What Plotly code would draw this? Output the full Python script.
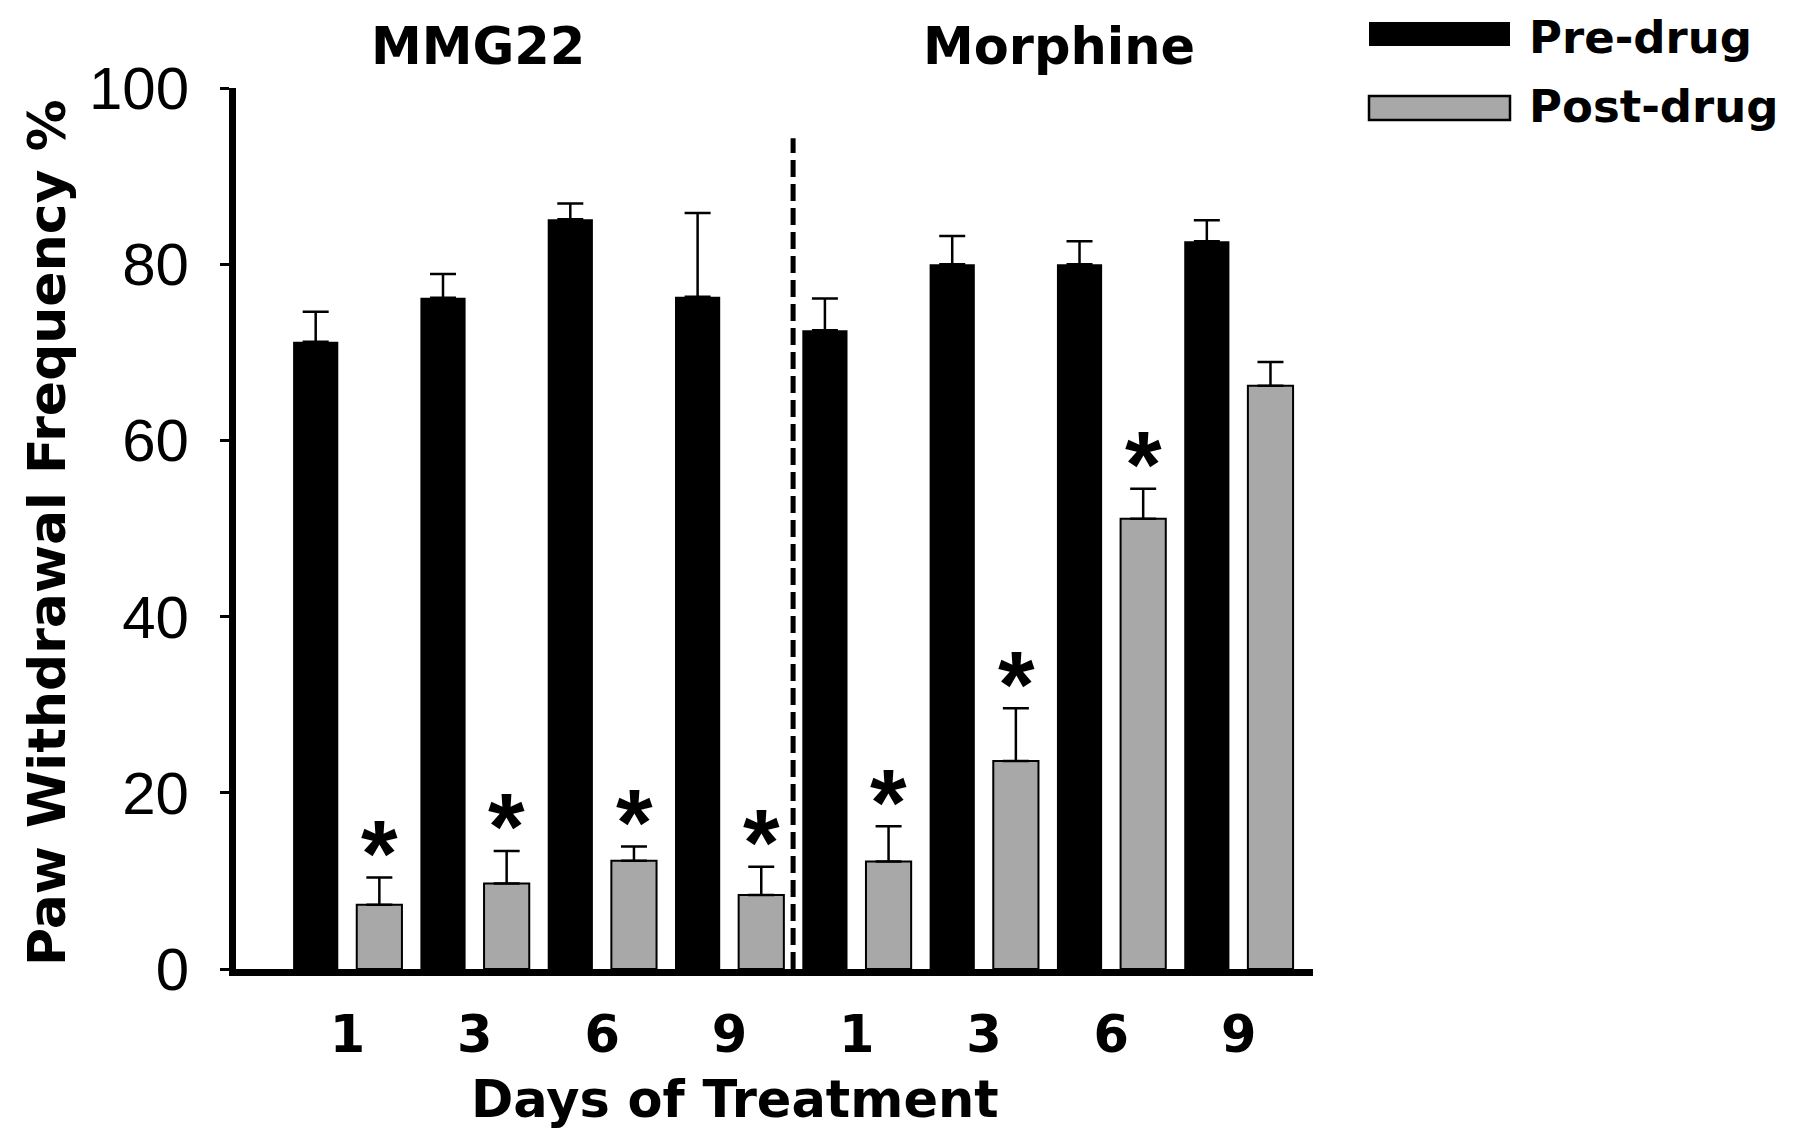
import plotly.graph_objects as go

# ---------------- data ----------------
groups = ["MMG22", "Morphine"]
day_labels = ["1", "3", "6", "9", "1", "3", "6", "9"]
series_names = ["Pre-drug", "Post-drug"]
pre_drug = [71.2, 76.2, 85.1, 76.3, 72.5, 80.0, 80.0, 82.6]
pre_drug_err = [3.4, 2.7, 1.8, 9.5, 3.6, 3.2, 2.6, 2.4]
post_drug = [7.3, 9.7, 12.3, 8.4, 12.2, 23.6, 51.1, 66.2]
post_drug_err = [3.1, 3.7, 1.6, 3.2, 4.0, 6.0, 3.4, 2.7]
significant = [True, True, True, True, True, True, True, False]
y_ticks = [0, 20, 40, 60, 80, 100]

# ---------------- layout geometry (pixels, reference frame) ----------------
PAGE = 8  # default page margin of the html body
W, H = 1800 - PAGE, 1147 - PAGE
L, R, T, B = 236, 1313, 88, 969


def px_x(px):
    return (px - L) / (R - L)


def px_y(py):
    return (B - py) / (B - T)


BOLD = "DejaVu Sans"
REG = "Liberation Sans, Arial, sans-serif"
STAR = "Liberation Sans, Arial, sans-serif"

xpos = list(range(len(day_labels)))

fig = go.Figure()
fig.add_trace(go.Bar(
    x=xpos, y=pre_drug, name=series_names[0],
    marker=dict(color="#000000", line=dict(color="#000000", width=0)),
    error_y=dict(type="data", symmetric=False, array=pre_drug_err,
                 arrayminus=[0] * len(pre_drug), color="#000000",
                 thickness=2.5, width=13),
    showlegend=False,
))
fig.add_trace(go.Bar(
    x=xpos, y=post_drug, name=series_names[1],
    marker=dict(color="#a8a8a8", line=dict(color="#000000", width=2)),
    error_y=dict(type="data", symmetric=False, array=post_drug_err,
                 arrayminus=[0] * len(post_drug), color="#000000",
                 thickness=2.5, width=13),
    showlegend=False,
))

annotations = []
# significance asterisks
for i, sig in enumerate(significant):
    if sig:
        annotations.append(dict(
            x=i, y=post_drug[i] + post_drug_err[i], xref="x", yref="y",
            text="*", showarrow=False, xshift=32, yshift=24,
            xanchor="center", yanchor="middle",
            font=dict(family=STAR, size=94, weight="bold", color="#000000"),
        ))

# group titles
for name, cx in zip(groups, [477.6, 1059]):
    annotations.append(dict(
        x=px_x(cx), y=px_y(47), xref="paper", yref="paper", text=name,
        showarrow=False, xanchor="center", yanchor="middle",
        font=dict(family=BOLD, size=51, weight="bold", color="#000000"),
    ))

# axis titles
annotations.append(dict(
    x=px_x(735), y=px_y(1099), xref="paper", yref="paper",
    text="Days of Treatment", showarrow=False, xanchor="center", yanchor="middle",
    font=dict(family=BOLD, size=51, weight="bold", color="#000000"),
))
annotations.append(dict(
    x=px_x(47), y=px_y(533), xref="paper", yref="paper",
    text="Paw Withdrawal Frequency %", showarrow=False, textangle=-90,
    xanchor="center", yanchor="middle",
    font=dict(family=BOLD, size=52, weight="bold", color="#000000"),
))

# custom legend
legend_box_y = [34, 108]
legend_text_y = [38, 106]
legend_fill = ["#000000", "#a8a8a8"]
legend_line_w = [0, 2.5]
shapes = []
for name, cy, ty, fill, lw in zip(series_names, legend_box_y, legend_text_y,
                                  legend_fill, legend_line_w):
    shapes.append(dict(
        type="rect", xref="paper", yref="paper",
        x0=px_x(1369), x1=px_x(1510), y0=px_y(cy + 12), y1=px_y(cy - 12),
        fillcolor=fill, line=dict(color="#000000", width=lw),
    ))
    annotations.append(dict(
        x=px_x(1527), y=px_y(ty), xref="paper", yref="paper", text=name,
        showarrow=False, xanchor="left", yanchor="middle",
        font=dict(family=BOLD, size=45, weight="bold", color="#000000"),
    ))

# dashed divider between the two treatment groups
shapes.append(dict(
    type="line", xref="x", yref="y", x0=3.5, x1=3.5, y0=0, y1=94.3,
    line=dict(color="#000000", width=5, dash="17px,7px"),
))

fig.update_layout(
    width=W, height=H,
    margin=dict(l=L - PAGE, r=1800 - R, t=T - PAGE, b=1147 - B, pad=0,
                autoexpand=False),
    paper_bgcolor="#ffffff", plot_bgcolor="#ffffff",
    barmode="group", bargap=0.0, bargroupgap=0.29,
    annotations=annotations, shapes=shapes,
    showlegend=False,
)
fig.update_xaxes(
    range=[-0.876, 7.584], tickmode="array", tickvals=xpos, ticktext=day_labels,
    showline=True, linecolor="#000000", linewidth=7, ticks="",
    showgrid=False, zeroline=False, ticklabelstandoff=15, automargin=False,
    tickfont=dict(family=BOLD, size=51, weight="bold", color="#000000"),
)
fig.update_yaxes(
    range=[0, 100], tickmode="array", tickvals=y_ticks,
    showline=True, linecolor="#000000", linewidth=7, ticks="outside",
    ticklen=9, tickwidth=3, tickcolor="#000000",
    showgrid=False, zeroline=False, ticklabelstandoff=19, automargin=False,
    tickfont=dict(family=REG, size=60, color="#000000"),
)

fig.write_html("out.html")
